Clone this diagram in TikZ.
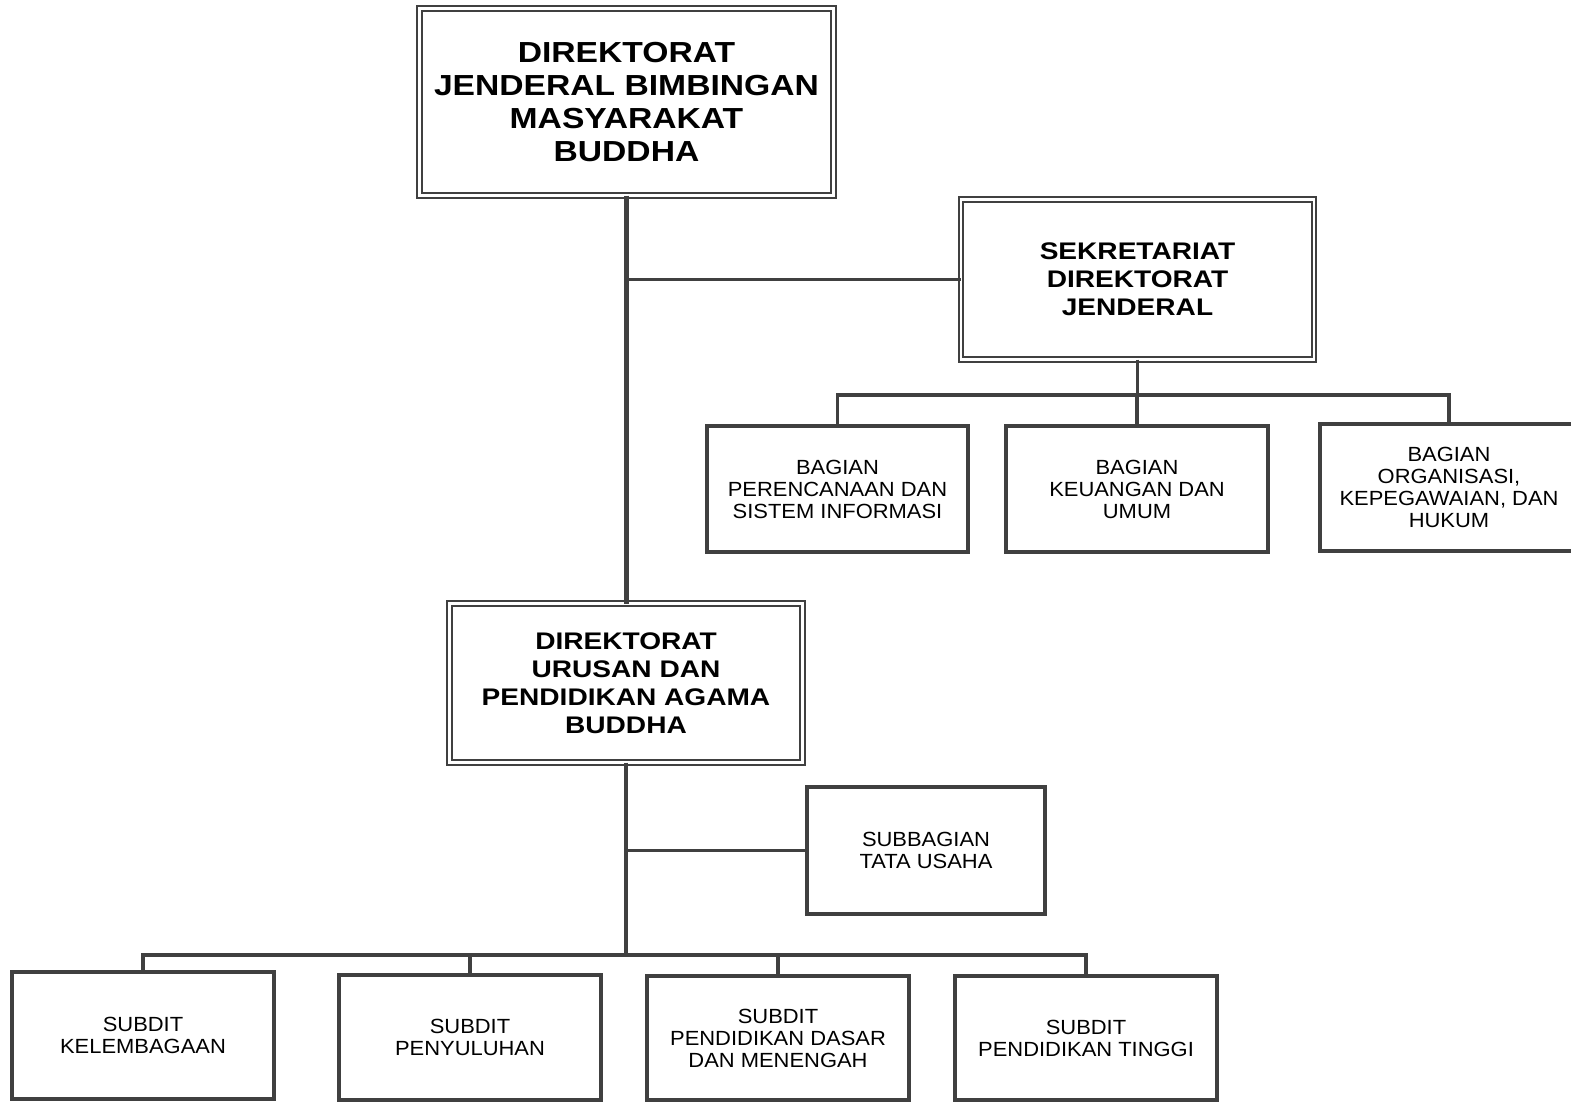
\documentclass[tikz,border=0pt]{standalone}
\usepackage{fontspec}
\setmainfont{Liberation Sans}
\newfontfamily\hb{Liberation Sans}[FakeStretch=1.16]
\newfontfamily\hm{Liberation Sans}[FakeStretch=1.17]
\newfontfamily\hs{Liberation Sans}[FakeStretch=1.07]
\definecolor{ln}{HTML}{404040}
\tikzset{
  dbox/.style={draw=ln, double=white, double distance=2.6pt, line width=2pt,
    inner sep=0pt, outer sep=0pt, align=center, text=black},
  sbox/.style={draw=ln, line width=3.5pt, inner sep=0pt, outer sep=0pt,
    align=center, text=black, font=\hs\fontsize{20.5}{22}\selectfont},
  bigtxt/.style={font=\hb\bfseries\fontsize{29}{33}\selectfont},
  medtxt/.style={font=\hm\bfseries\fontsize{24}{28}\selectfont},
  mainline/.style={draw=ln, line width=4.4pt},
  busline/.style={draw=ln, line width=3.5pt},
  thinline/.style={draw=ln, line width=2.8pt},
}
\begin{document}
\begin{tikzpicture}[x=1pt,y=-1pt]
\useasboundingbox (0,0) rectangle (1571,1101);
\fill[white] (0,0) rectangle (1571,1101);
% double boxes
\node[dbox, bigtxt, minimum width=414, minimum height=187] (dj) at (626.5,102)
  {DIREKTORAT\\JENDERAL BIMBINGAN\\MASYARAKAT\\BUDDHA};
\node[dbox, medtxt, minimum width=353, minimum height=160] (sek) at (1137.5,279.5)
  {SEKRETARIAT\\DIREKTORAT\\JENDERAL};
\node[dbox, medtxt, minimum width=353, minimum height=159] (du) at (626,683)
  {DIREKTORAT\\URUSAN DAN\\PENDIDIKAN AGAMA\\BUDDHA};
% bagian boxes
\node[sbox, minimum width=261, minimum height=126] (b1) at (837.5,489)
  {BAGIAN\\PERENCANAAN DAN\\SISTEM INFORMASI};
\node[sbox, minimum width=262, minimum height=126] (b2) at (1137,489)
  {BAGIAN\\KEUANGAN DAN\\UMUM};
\node[sbox, minimum width=258, minimum height=127] (b3) at (1449,487.5)
  {BAGIAN\\ORGANISASI,\\KEPEGAWAIAN, DAN\\HUKUM};
% subbagian
\node[sbox, minimum width=238, minimum height=127] (sub) at (926,850.5)
  {SUBBAGIAN\\TATA USAHA};
% subdit boxes
\node[sbox, minimum width=262, minimum height=127] (s1) at (143,1035.5)
  {SUBDIT\\KELEMBAGAAN};
\node[sbox, minimum width=262, minimum height=125] (s2) at (470,1037.5)
  {SUBDIT\\PENYULUHAN};
\node[sbox, minimum width=262, minimum height=124] (s3) at (778,1038)
  {SUBDIT\\PENDIDIKAN DASAR\\DAN MENENGAH};
\node[sbox, minimum width=262, minimum height=124] (s4) at (1086,1038)
  {SUBDIT\\PENDIDIKAN TINGGI};
% bus coordinates
\coordinate (bus1) at (1137.5,395);
\coordinate (bus2) at (627,955);
% connectors
\draw[mainline] (dj.south) -- (dj.south |- du.north);
\draw[thinline] (dj.south |- sek.west) -- (sek.west);
\draw[busline] (sek.south) -- (bus1);
\draw[busline] (b1.north) -- (b1.north |- bus1) -- (b3.north |- bus1) -- (b3.north);
\draw[busline] (b2.north) -- (b2.north |- bus1);
\draw[mainline] (du.south) -- (du.south |- bus2);
\draw[thinline] (du.south |- sub.west) -- (sub.west);
\draw[busline] (s1.north) -- (s1.north |- bus2) -- (s4.north |- bus2) -- (s4.north);
\draw[busline] (s2.north) -- (s2.north |- bus2);
\draw[busline] (s3.north) -- (s3.north |- bus2);
\end{tikzpicture}
\end{document}
